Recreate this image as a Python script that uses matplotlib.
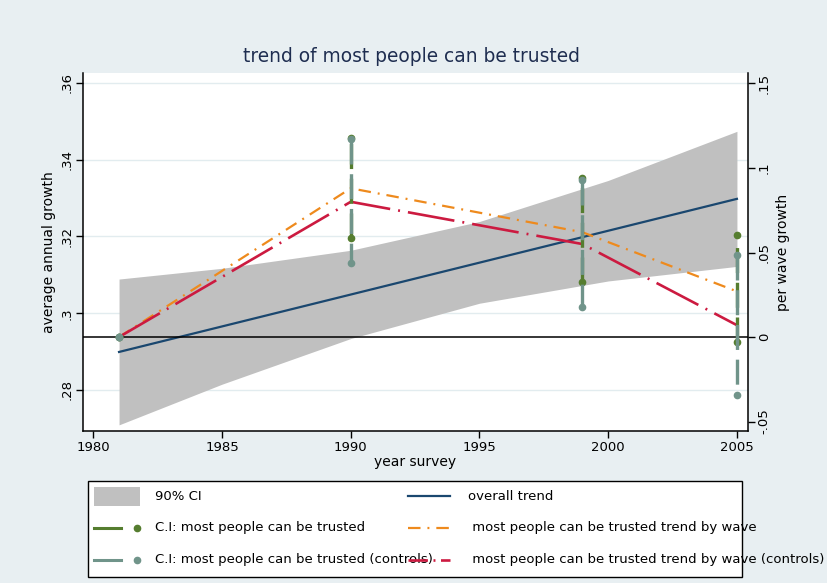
import matplotlib
matplotlib.use('Agg')
import matplotlib.pyplot as plt
from matplotlib.patches import Rectangle

plt.rcParams['font.family'] = ['DejaVu Sans']
plt.rcParams['lines.scale_dashes'] = False

# survey waves and per-wave growth (right axis)
years = [1981, 1990, 1999, 2005]
wave_trend = [0.0, 0.088, 0.062, 0.027]
wave_trend_ctrl = [0.0, 0.080, 0.055, 0.007]
ci_lo = [0.0, 0.0586, 0.0325, -0.003]
ci_hi = [0.0, 0.1178, 0.094, 0.0604]
ci_ctrl_lo = [0.0, 0.0438, 0.0178, -0.0343]
ci_ctrl_hi = [0.0, 0.117, 0.093, 0.0485]

# overall linear trend and its 90% CI (left axis)
trend_years = [1981, 2005]
trend_vals = [0.2899, 0.3298]
band_years = [1981, 1985, 1990, 1995, 2000, 2005]
band_hi = [0.3089, 0.3117, 0.3164, 0.3239, 0.3346, 0.3474]
band_lo = [0.2709, 0.2815, 0.2934, 0.3026, 0.3084, 0.3122]

left_ticks = [0.28, 0.30, 0.32, 0.34, 0.36]
left_labels = ['.28', '.3', '.32', '.34', '.36']
right_ticks = [-0.05, 0, 0.05, 0.1, 0.15]
right_labels = ['-.05', '0', '.05', '.1', '.15']
x_ticks = [1980, 1985, 1990, 1995, 2000, 2005]

BG = '#e8eff2'
BLUE = '#1a476f'
ORANGE = '#ee8a1d'
RED = '#cc1a40'
GREEN = '#557d2f'
TEAL = '#70948a'
BAND = '#c0c0c0'
DASHDOT = (0, (9, 5, 1.4, 5))
LONGDASHDOT = (0, (34, 5.8, 1.4, 5.8))
CIDASH = (0, (18, 7))

W, H = 828, 583
fig = plt.figure(figsize=(W / 100, H / 100), dpi=100, facecolor=BG)
ax = fig.add_axes([83 / W, 1 - 431 / H, (748 - 83) / W, (431 - 73) / H])
ax2 = ax.twinx()

ax.fill_between(band_years, band_lo, band_hi, color=BAND, lw=0, zorder=1)
ax.plot(trend_years, trend_vals, color=BLUE, lw=1.6, zorder=2)

ax2.axhline(0, color='black', lw=1.1, zorder=1)
ax2.plot(years, wave_trend, color=ORANGE, lw=1.6, linestyle=DASHDOT, zorder=2)
ax2.plot(years, wave_trend_ctrl, color=RED, lw=1.9, linestyle=LONGDASHDOT, zorder=2)
for x, lo, hi in zip(years, ci_lo, ci_hi):
    ax2.plot([x, x], [lo, hi], color=GREEN, lw=2.4, linestyle=CIDASH,
             marker='o', ms=4.5, zorder=3)
for x, lo, hi in zip(years, ci_ctrl_lo, ci_ctrl_hi):
    ax2.plot([x, x], [hi, lo], color=TEAL, lw=2.4, linestyle=CIDASH,
             marker='o', ms=4.5, zorder=4)

ax.set_xlim(1979.6, 2005.43)
ax.set_ylim(0.2693, 0.3626)
ax2.set_ylim(-0.0556, 0.1562)

ax.set_facecolor('white')
ax.set_axisbelow(True)
ax.yaxis.grid(True, color='#e2ecef', lw=1)
for s in ['top', 'right']:
    ax.spines[s].set_visible(False)
for s in ['top', 'left', 'bottom']:
    ax2.spines[s].set_visible(False)
for sp in [ax.spines['left'], ax.spines['bottom'], ax2.spines['right']]:
    sp.set_linewidth(1.1)

ax.set_xticks(x_ticks)
ax.set_yticks(left_ticks)
ax.set_yticklabels(left_labels, rotation=90, va='center')
ax2.set_yticks(right_ticks)
ax2.set_yticklabels(right_labels, rotation=90, va='center')
ax.tick_params(axis='both', direction='out', length=5, width=1, labelsize=9.5, pad=2)
ax2.tick_params(axis='y', direction='out', length=5, width=1, labelsize=9.5, pad=2)

ax.set_xlabel('year survey', fontsize=10, labelpad=1)
ax.set_ylabel('average annual growth', fontsize=10, labelpad=3)
ax2.set_ylabel('per wave growth', fontsize=10, labelpad=4)
fig.text(412 / W, 1 - 57 / H, 'trend of most people can be trusted',
         ha='center', va='center', fontsize=13.4, color='#1e2d50')

# legend drawn by hand, in pixel coordinates
lax = fig.add_axes([0, 0, 1, 1], zorder=5)
lax.set_xlim(0, W)
lax.set_ylim(H, 0)
lax.axis('off')
lax.add_patch(Rectangle((88, 481), 654, 96, fc='white', ec='black', lw=1))
lax.add_patch(Rectangle((94, 487), 46, 19, fc=BAND, ec='none'))
rows = [496, 528, 560]
for y, c in [(rows[1], GREEN), (rows[2], TEAL)]:
    lax.plot([94, 121], [y, y], color=c, lw=2.2)
    lax.plot([137], [y], 'o', color=c, ms=4.5)
left_txt = ['90% CI', 'C.I: most people can be trusted',
            'C.I: most people can be trusted (controls)']
right_txt = ['overall trend', ' most people can be trusted trend by wave',
             ' most people can be trusted trend by wave (controls)']
for y, t in zip(rows, left_txt):
    lax.text(155, y, t, va='center', fontsize=9.5)
for y, t in zip(rows, right_txt):
    lax.text(468, y, t, va='center', fontsize=9.5)
lax.plot([408, 450], [rows[0]] * 2, color=BLUE, lw=1.6, zorder=6)
lax.plot([408, 450], [rows[1]] * 2, color=ORANGE, lw=1.6, linestyle=DASHDOT, zorder=6)
lax.plot([408, 450], [rows[2]] * 2, color=RED, lw=1.9, linestyle=(0, (14, 4, 1.4, 4)), zorder=6)

fig.savefig('out.png', dpi=100, facecolor=BG)
